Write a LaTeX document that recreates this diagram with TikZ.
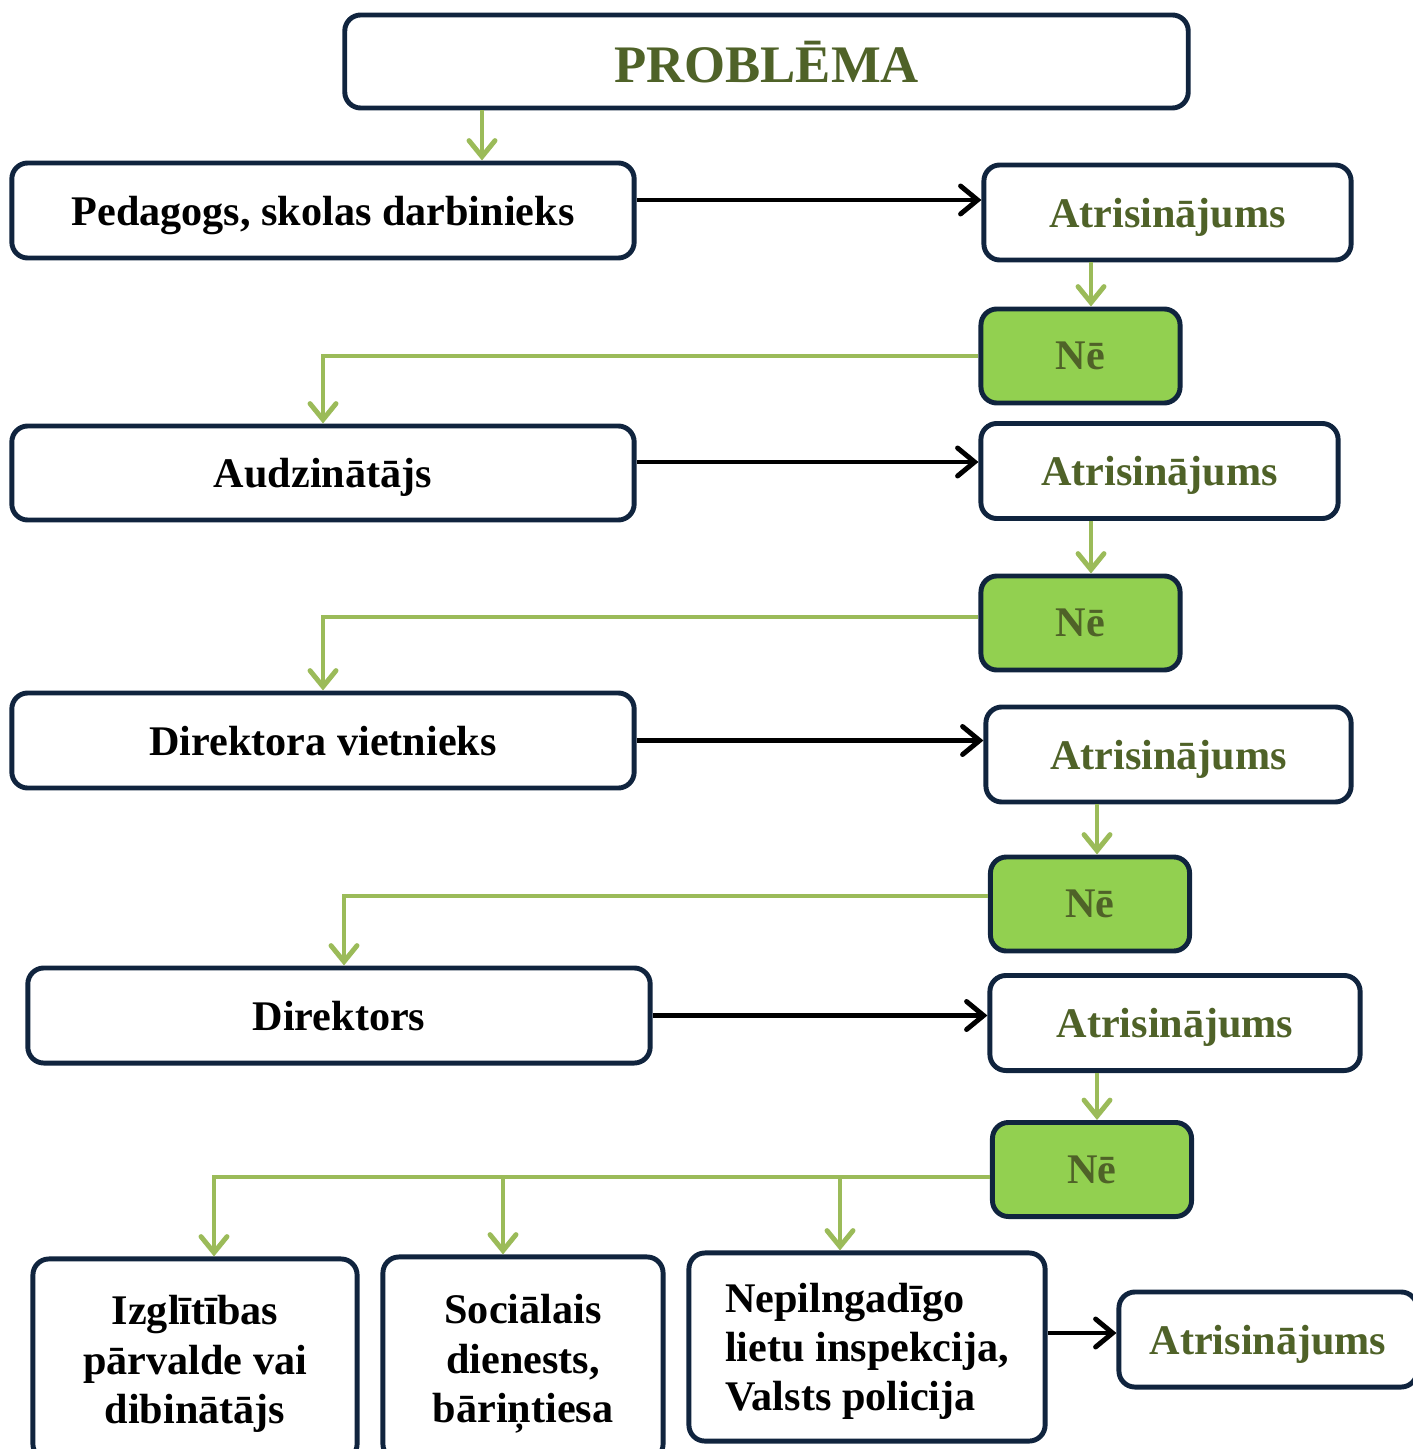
\documentclass[tikz,border=0pt]{standalone}
\usepackage{fontspec}
\setmainfont{Liberation Serif}
\usetikzlibrary{arrows.meta}
\definecolor{boxline}{HTML}{10243E}
\definecolor{linegreen}{HTML}{9BBB59}
\definecolor{nofill}{HTML}{92D050}
\definecolor{textgreen}{HTML}{4F6228}
\begin{document}
\begin{tikzpicture}[x=0.01cm,y=-0.01cm,
    box/.style={draw=boxline,line width=1.4pt,rounded corners=0.16cm,fill=white,inner sep=0pt,
        text depth=0pt,font=\fontsize{12}{14}\selectfont\bfseries},
    answer/.style={box,text=textgreen,minimum height=0.95cm},
    nobox/.style={box,fill=nofill,text=textgreen,minimum width=1.99cm,minimum height=0.94cm},
    greenarrow/.style={draw=linegreen,line width=1.4pt,-{Straight Barb[length=1.6mm,width=2.6mm,line cap=round]}},
    blackarrow/.style={draw=black,line width=1.4pt,-{Straight Barb[length=1.7mm,width=2.8mm,line cap=round]}}]

    % Page
    \useasboundingbox (0,0) rectangle (1413,1449);

    % Top box
    \node[box,minimum width=8.43cm,minimum height=0.93cm,text=textgreen,
        font=\fontsize{15}{18}\selectfont\bfseries] (prob) at (766.5,61.5) {PROBLĒMA};

    % Levels
    \node[box,minimum width=6.22cm,minimum height=0.95cm] (ped) at (323,210.5) {Pedagogs, skolas darbinieks};
    \node[answer,minimum width=3.67cm] (atr1) at (1167.5,212.5) {Atrisinājums};
    \node[nobox] (ne1) at (1080.5,356) {Nē};

    \node[box,minimum width=6.22cm,minimum height=0.94cm] (aud) at (323,473) {Audzinātājs};
    \node[answer,minimum width=3.57cm] (atr2) at (1159.5,471) {Atrisinājums};
    \node[nobox] (ne2) at (1080.5,623) {Nē};

    \node[box,minimum width=6.22cm,minimum height=0.95cm] (vietn) at (323,740.5) {Direktora vietnieks};
    \node[answer,minimum width=3.65cm] (atr3) at (1168.5,754.5) {Atrisinājums};
    \node[nobox] (ne3) at (1090,904) {Nē};

    \node[box,minimum width=6.22cm,minimum height=0.95cm] (dir) at (339,1015.5) {Direktors};
    \node[answer,minimum width=3.70cm] (atr4) at (1175,1023) {Atrisinājums};
    \node[nobox] (ne4) at (1092,1169.5) {Nē};

    % Bottom row
    \node[box,minimum width=3.24cm,minimum height=2.01cm,align=center] (izgl) at (195,1359.5)
        {Izglītības\\pārvalde vai\\dibinātājs};
    \node[box,minimum width=2.80cm,minimum height=2.03cm,align=center] (soc) at (523,1358.5)
        {Sociālais\\dienests,\\bāriņtiesa};
    \node[box,minimum width=3.56cm,minimum height=1.88cm,align=left] (nep) at (867,1347)
        {Nepilngadīgo\\lietu inspekcija,\\Valsts policija};
    \node[answer,minimum width=2.98cm] (atr5) at (1268,1339.5) {Atrisinājums};

    % Black arrows
    \draw[blackarrow] ([yshift=0.105cm]ped.east) -- ([yshift=0.105cm]ped.east -| atr1.west);
    \draw[blackarrow] ([yshift=0.11cm]aud.east) -- ([yshift=0.11cm]aud.east -| atr2.west);
    \draw[blackarrow] (vietn.east) -- (vietn.east -| atr3.west);
    \draw[blackarrow] (dir.east) -- (dir.east -| atr4.west);
    \draw[blackarrow] ([yshift=0.14cm]nep.east) -- ([yshift=0.14cm]nep.east -| atr5.west);

    % Green arrows
    \draw[greenarrow] (prob.south -| 482,0) -- (ped.north -| 482,0);
    \draw[greenarrow] (atr1.south -| 1091,0) -- (ne1.north -| 1091,0);
    \draw[greenarrow] (ne1.west) -| (aud.north);
    \draw[greenarrow] (atr2.south -| 1091,0) -- (ne2.north -| 1091,0);
    \draw[greenarrow] ([yshift=0.06cm]ne2.west) -| (vietn.north);
    \draw[greenarrow] (atr3.south -| 1097,0) -- (ne3.north -| 1097,0);
    \draw[greenarrow] ([yshift=0.08cm]ne3.west) -| (dir.north -| 344,0);
    \draw[greenarrow] (atr4.south -| 1097,0) -- (ne4.north -| 1097,0);
    \draw[greenarrow] ([yshift=-0.075cm]ne4.west) -| (izgl.north -| 214,0);
    \draw[greenarrow] ([yshift=-0.075cm]ne4.west -| 503,0) -- (soc.north -| 503,0);
    \draw[greenarrow] ([yshift=-0.075cm]ne4.west -| 840,0) -- (nep.north -| 840,0);

\end{tikzpicture}
\end{document}
